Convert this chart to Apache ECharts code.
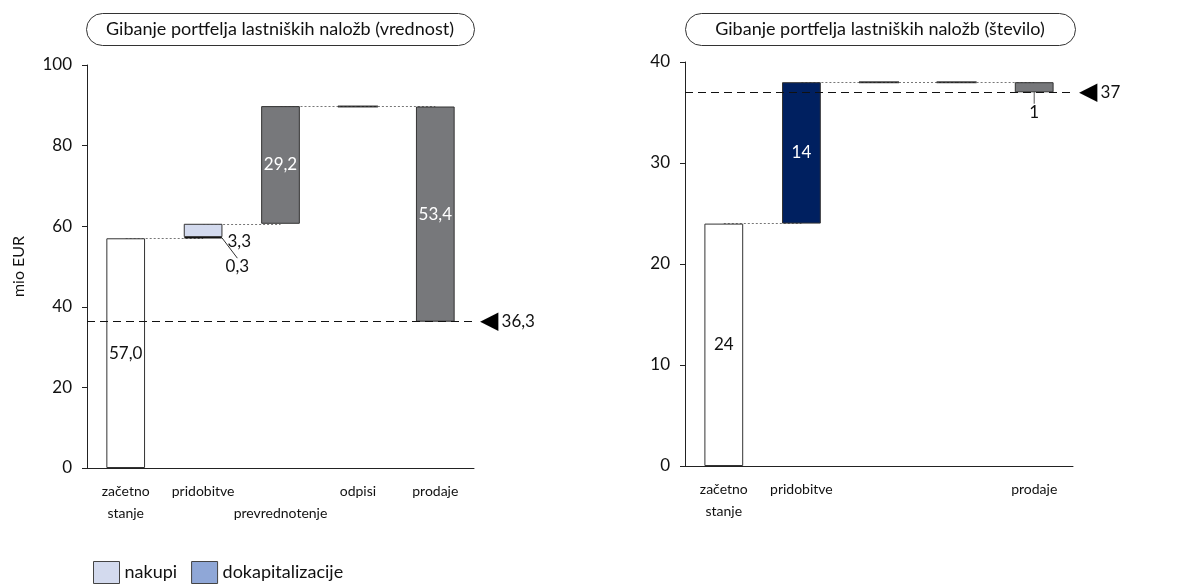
<!DOCTYPE html>
<html>
<head>
<meta charset="utf-8">
<script src="https://cdn.jsdelivr.net/npm/echarts@6/dist/echarts.min.js"></script>
<style>
  html, body { margin: 0; padding: 0; background: #fff; }
  #charts { width: 1198px; height: 584px; }
</style>
</head>
<body>
<div id="charts"></div>
<script>
// podatki - vrednost (mio EUR)
var leftCats = ["začetno\nstanje", "pridobitve", "\nprevrednotenje", "odpisi", "prodaje"];
var leftChange = [57.0, 3.6, 29.2, -0.1, -53.4];
var leftNakupi = [null, 3.3, null, null, null];
var leftDokap = [null, 0.3, null, null, null];
var leftEnd = 36.3;
var leftTicks = [0, 20, 40, 60, 80, 100];

// podatki - število
var rightCats = ["začetno\nstanje", "pridobitve", "", "", "prodaje"];
var rightChange = [24, 14, 0, 0, -1];
var rightEnd = 37;
var rightTicks = [0, 10, 20, 30, 40];

var FONT = "Lato";
var GRAY = "#77787b";
var NAVY = "#002060";

function levels(change) {
  var before = [], after = [], sum = 0;
  change.forEach(function (v, i) {
    before.push(i === 0 ? 0 : sum);
    sum += v;
    after.push(sum);
  });
  return [before, after];
}

function fmtL(v) { return Math.abs(v).toFixed(1).replace(".", ","); }
function fmtR(v) { return String(Math.abs(v)); }

// gradi serije za en graf (waterfall s prosojno podlago)
function buildSeries(idx, change, fills, fmt, endVal, split) {
  var lv = levels(change), before = lv[0], after = lv[1];
  var stack = "w" + idx;
  var base = change.map(function (v, i) {
    if (i === 0) return 0;
    if (split && split.nak[i] != null) return before[i];
    if (v === 0) return "-";
    return Math.min(before[i], after[i]);
  });
  var series = [];
  series.push({
    type: "bar", xAxisIndex: idx, yAxisIndex: idx, stack: stack, barWidth: "50%",
    itemStyle: { color: "transparent" }, silent: true, data: base
  });
  // glavni stolpci
  var main = change.map(function (v, i) {
    if (v === 0 || (split && split.nak[i] != null) || fills[i] === "line") return "-";
    return {
      value: Math.abs(v),
      itemStyle: { color: fills[i], borderColor: "#333", borderWidth: 1 },
      label: {
        show: true, position: "inside",
        color: fills[i] === "#ffffff" ? "#111" : "#fff",
        fontSize: 17, fontFamily: FONT, formatter: fmt(v)
      }
    };
  });
  series.push({ type: "bar", xAxisIndex: idx, yAxisIndex: idx, stack: stack, barWidth: "50%", data: main, z: 2 });
  if (split) {
    series.push({
      name: "dokapitalizacije", type: "bar", xAxisIndex: idx, yAxisIndex: idx, stack: stack, barWidth: "50%",
      itemStyle: { color: "#8fa7d7", borderColor: "#111", borderWidth: 1.5 },
      label: { show: true, position: "right", fontSize: 17, fontFamily: FONT, color: "#111",
        formatter: function (p) { return fmtL(p.value); } },
      labelLayout: { dx: -2, dy: 29 },
      labelLine: { show: true, lineStyle: { color: "#333", width: 1 } },
      data: split.dok.map(function (v) { return v == null ? "-" : v; })
    });
    series.push({
      name: "nakupi", type: "bar", xAxisIndex: idx, yAxisIndex: idx, stack: stack, barWidth: "50%",
      itemStyle: { color: "#d3daee", borderColor: "#333", borderWidth: 1 },
      label: { show: true, position: "right", offset: [0, 11], fontSize: 17, fontFamily: FONT, color: "#111",
        formatter: function (p) { return fmtL(p.value); } },
      data: split.nak.map(function (v) { return v == null ? "-" : v; })
    });
  }
  // ploske crte za nicelne spremembe + povezave
  var flat = change.map(function (v, i) {
    return fills[i] === "line" ? after[i] : "-";
  });
  var links = [];
  for (var i = 0; i < change.length - 1; i++) {
    links.push([{ coord: [i, after[i]] }, { coord: [i + 1, after[i]] }]);
  }
  series.push({
    type: "scatter", xAxisIndex: idx, yAxisIndex: idx, symbol: "rect", symbolSize: [40, 2],
    itemStyle: { color: "#111" }, silent: true, z: 3, data: flat,
    markLine: {
      silent: true, symbol: ["none", "none"], z: 1, animation: false,
      lineStyle: { color: "#777", type: [2, 2], width: 1 },
      label: { show: false },
      data: links
    }
  });
  series.push({
    type: "scatter", xAxisIndex: idx, yAxisIndex: idx, data: [], silent: true,
    markLine: {
      silent: true, symbol: ["none", "none"], z: 4, animation: false,
      lineStyle: { color: "#111", type: [8, 5], width: 1 },
      label: {
        show: true, position: "end", distance: 6, color: "#111",
        formatter: "{t|◀} {v|" + fmt(endVal) + "}",
        rich: { t: { fontSize: 24, fontFamily: "DejaVu Sans", color: "#000" }, v: { fontSize: 17, fontFamily: FONT } }
      },
      data: [{ yAxis: endVal }]
    }
  });
  return series;
}

var leftSeries = buildSeries(0, leftChange, ["#ffffff", null, GRAY, "line", GRAY], fmtL, leftEnd,
  { nak: leftNakupi, dok: leftDokap });
var rightSeries = buildSeries(1, rightChange, ["#ffffff", NAVY, "line", "line", GRAY], fmtR, rightEnd, null);

// oznaka "1" pod stolpcem prodaje
rightSeries[1].data[4].label = {
  show: true, position: "inside", color: "#111", fontSize: 17, fontFamily: FONT, formatter: "1"
};
rightSeries[1].labelLayout = function (p) { return p.dataIndex === 4 ? { dy: 25 } : {}; };
rightSeries[1].labelLine = { show: true, lineStyle: { color: "#555", width: 1 } };

var axisCommonX = {
  type: "category",
  axisTick: { show: false },
  axisLine: { lineStyle: { color: "#222", width: 1 } },
  axisLabel: { interval: 0, color: "#111", fontSize: 14, fontFamily: FONT, lineHeight: 22, margin: 12 }
};
var axisCommonY = {
  type: "value",
  splitLine: { show: false },
  axisLine: { show: true, lineStyle: { color: "#222", width: 1 } },
  axisTick: { show: true, length: 5, lineStyle: { color: "#222" } },
  axisLabel: { color: "#111", fontSize: 17, fontFamily: FONT, margin: 15 }
};

var myChart = echarts.init(document.getElementById("charts"));
myChart.setOption({
  animation: false,
  textStyle: { fontFamily: FONT },
  grid: [
    { left: 87, right: 724, top: 65, bottom: 116 },
    { left: 685, right: 125, top: 62, bottom: 118 }
  ],
  xAxis: [
    Object.assign({ gridIndex: 0, data: leftCats }, axisCommonX),
    Object.assign({ gridIndex: 1, data: rightCats }, axisCommonX)
  ],
  yAxis: [
    Object.assign({ gridIndex: 0, min: leftTicks[0], max: leftTicks[leftTicks.length - 1], interval: 20,
      name: "mio EUR", nameLocation: "middle", nameRotate: 90, nameGap: 60,
      nameTextStyle: { fontSize: 16, color: "#111", fontFamily: FONT } }, axisCommonY),
    Object.assign({ gridIndex: 1, min: rightTicks[0], max: rightTicks[rightTicks.length - 1], interval: 10 }, axisCommonY)
  ],
  legend: {
    data: ["nakupi", "dokapitalizacije"],
    left: 93, top: 561, padding: 0, itemGap: 14,
    itemWidth: 26, itemHeight: 22, icon: "rect",
    itemStyle: { borderColor: "#444", borderWidth: 1 },
    textStyle: { fontSize: 18, color: "#111", fontFamily: FONT }
  },
  graphic: [
    { type: "rect", left: 86, top: 13, shape: { width: 388, height: 32, r: 16 },
      style: { fill: "#fff", stroke: "#333", lineWidth: 1 } },
    { type: "text", x: 280, y: 29, style: { text: "Gibanje portfelja lastniških naložb (vrednost)",
      font: "18px " + FONT, fill: "#111", textAlign: "center", textVerticalAlign: "middle" } },
    { type: "rect", left: 685, top: 13, shape: { width: 390, height: 32, r: 16 },
      style: { fill: "#fff", stroke: "#333", lineWidth: 1 } },
    { type: "text", x: 880, y: 29, style: { text: "Gibanje portfelja lastniških naložb (število)",
      font: "18px " + FONT, fill: "#111", textAlign: "center", textVerticalAlign: "middle" } }
  ],
  series: leftSeries.concat(rightSeries)
});
</script>
</body>
</html>
